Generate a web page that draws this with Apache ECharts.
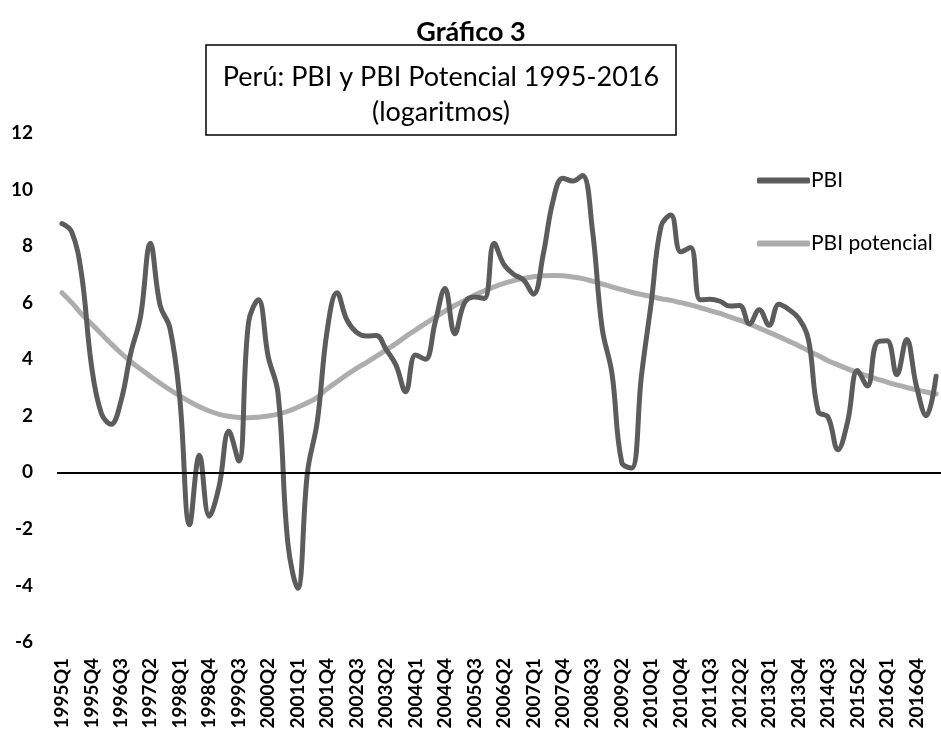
<!DOCTYPE html>
<html>
<head>
<meta charset="utf-8">
<script src="https://cdn.jsdelivr.net/npm/echarts@6/dist/echarts.min.js"></script>
<style>
  html, body { margin: 0; padding: 0; background: #fff; }
  #chart { width: 941px; height: 736px; }
</style>
</head>
<body>
<div id="chart"></div>
<script>
// quarters 1995Q1 .. 2017Q2
const quarters = [];
for (let y = 1995; y <= 2017; y++) {
    for (let q = 1; q <= 4; q++) {
        if (y === 2017 && q > 2) break;
        quarters.push(y + 'Q' + q);
    }
}

const pbi = [
    8.8, 8.5, 7.0, 3.8, 2.1, 1.7, 2.5, 4.2, 5.5, 8.1,
    5.9, 5.1, 2.6, -1.85, 0.6, -1.55, -0.5, 1.45, 0.4, 5.3,
    6.1, 4.1, 2.8, -2.5, -4.1, 0.0, 1.8, 5.0, 6.35, 5.4,
    4.95, 4.82, 4.84, 4.35, 3.8, 2.85, 4.15, 4.0, 5.3, 6.5,
    4.9, 6.0, 6.2, 6.15, 8.1, 7.35, 7.0, 6.8, 6.3, 7.7,
    9.6, 10.4, 10.3, 10.5, 8.6, 5.1, 3.5, 0.35, 0.15, 3.4,
    6.0, 8.7, 9.1, 7.8, 7.95, 6.1, 6.12, 6.05, 5.88, 5.9,
    5.25, 5.75, 5.2, 5.94, 5.76, 5.45, 4.7, 2.15, 1.95, 0.8,
    1.8, 3.6, 3.05, 4.6, 4.65, 3.45, 4.7, 3.05, 2.0, 3.4
];

const pbiPotencial = [
    6.35, 6.0, 5.6, 5.25, 4.9, 4.55, 4.22, 3.92, 3.65, 3.4,
    3.15, 2.92, 2.7, 2.5, 2.32, 2.17, 2.05, 1.98, 1.94, 1.93,
    1.95, 1.99, 2.06, 2.16, 2.3, 2.46, 2.65, 2.95, 3.2, 3.45,
    3.68, 3.88, 4.1, 4.32, 4.55, 4.8, 5.03, 5.26, 5.48, 5.7,
    5.9, 6.08, 6.26, 6.42, 6.56, 6.68, 6.78, 6.86, 6.92, 6.95,
    6.96, 6.95, 6.91, 6.85, 6.76, 6.66, 6.56, 6.46, 6.37, 6.29,
    6.22, 6.14, 6.08, 6.0, 5.92, 5.82, 5.72, 5.62, 5.5, 5.38,
    5.25, 5.1, 4.95, 4.8, 4.64, 4.48, 4.3, 4.13, 3.95, 3.8,
    3.66, 3.53, 3.41, 3.3, 3.19, 3.09, 3.0, 2.92, 2.84, 2.77
];

const yTicks = { min: -6, max: 12, step: 2 };

const font = 'Lato, "Open Sans", sans-serif';

let chart = echarts.init(document.getElementById('chart'));
chart.setOption({
    animation: false,
    textStyle: { fontFamily: font },
    graphic: [
        {
            type: 'text',
            x: 471,
            y: 32,
            style: { text: 'Gráfico 3', font: 'bold 27px ' + font, fill: '#000', align: 'center', verticalAlign: 'middle' }
        },
        {
            type: 'rect',
            shape: { x: 206, y: 45, width: 470, height: 90 },
            style: { fill: '#fff', stroke: '#000', lineWidth: 1.5 }
        },
        {
            type: 'text',
            x: 441,
            y: 95,
            style: {
                text: 'Perú: PBI y PBI Potencial 1995-2016\n(logaritmos)',
                font: '27px ' + font,
                fill: '#000',
                align: 'center',
                verticalAlign: 'middle',
                lineHeight: 35
            }
        }
    ],
    legend: {
        orient: 'vertical',
        left: 752,
        top: 165,
        itemWidth: 53,
        itemHeight: 6,
        itemGap: 42,
        textStyle: { fontSize: 21, color: '#000', fontFamily: font, padding: [0, 0, 0, -4] },
        data: [
            { name: 'PBI', icon: 'roundRect' },
            { name: 'PBI potencial', icon: 'roundRect' }
        ]
    },
    grid: {
        left: 57,
        right: 0,
        top: 133,
        bottom: 94
    },
    xAxis: {
        type: 'category',
        data: quarters,
        axisLine: { show: false, onZero: false },
        axisTick: { show: false },
        splitLine: { show: false },
        axisLabel: {
            interval: 2,
            rotate: 90,
            margin: 16,
            color: '#000',
            fontWeight: 'bold',
            fontSize: 19,
            fontFamily: font
        }
    },
    yAxis: {
        type: 'value',
        min: yTicks.min,
        max: yTicks.max,
        interval: yTicks.step,
        axisLine: { show: false },
        axisTick: { show: false },
        splitLine: { show: false },
        axisLabel: {
            margin: 24,
            color: '#000',
            fontWeight: 'bold',
            fontSize: 19,
            fontFamily: font
        }
    },
    series: [
        {
            name: 'PBI',
            type: 'line',
            data: pbi,
            smooth: 0.4,
            symbol: 'none',
            z: 3,
            lineStyle: { color: '#5c5c5c', width: 5, cap: 'round', join: 'round' },
            itemStyle: { color: '#5c5c5c' },
            markLine: {
                silent: true,
                symbol: 'none',
                label: { show: false },
                lineStyle: { color: '#000', width: 2, type: 'solid' },
                data: [{ yAxis: 0 }]
            }
        },
        {
            name: 'PBI potencial',
            type: 'line',
            data: pbiPotencial,
            smooth: 0.4,
            symbol: 'none',
            z: 2,
            lineStyle: { color: '#adadad', width: 5, cap: 'round', join: 'round' },
            itemStyle: { color: '#adadad' }
        }
    ]
});
</script>
</body>
</html>
